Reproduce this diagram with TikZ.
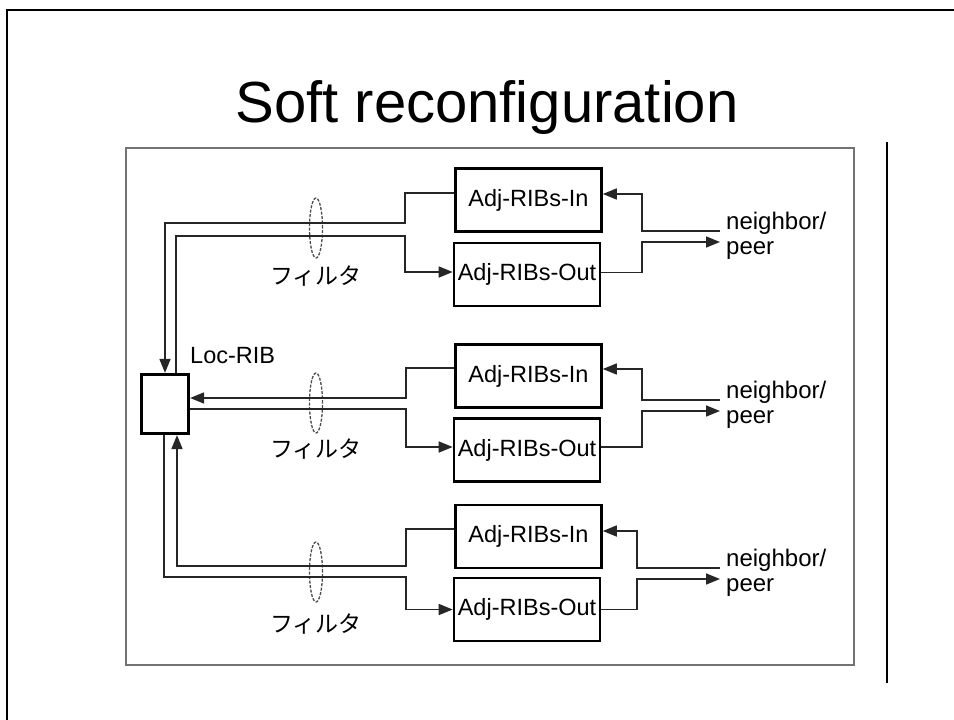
\documentclass[tikz,border=0pt]{standalone}
\usepackage{fontspec}
\setmainfont{Liberation Sans}
\newfontfamily\jpfont{Noto Sans CJK JP}
\usepackage{tikz}
\usetikzlibrary{arrows.meta, shapes.geometric}

\begin{document}
\begin{tikzpicture}[
  x=1pt, y=-1pt,
  >={Triangle[length=14pt, width=11pt]},
  ribbox/.style={
    draw, line width=2.6pt, inner sep=0pt,
    minimum width=146pt, minimum height=63pt,
    font=\fontsize{23.5}{25}\selectfont
  },
  link/.style={line width=1.6pt, draw=black!85},
  ring/.style={
    ellipse, draw=black!70, line width=1.3pt, dash pattern=on 3pt off 1.5pt,
    minimum width=13pt, minimum height=60pt, inner sep=0pt
  },
  filterlabel/.style={font=\jpfont\fontsize{23}{24}\selectfont},
  peerlabel/.style={anchor=west, align=left, inner sep=0pt, font=\fontsize{24}{25}\selectfont}
]
\useasboundingbox (0,0) rectangle (954,720);

% slide frame and title
\draw[line width=2.6pt] (7,720) -- (7,10) -- (954,10);
\draw[line width=2pt] (887,142) -- (887,683);
\node[font=\fontsize{58}{60}\selectfont, anchor=base] (title) at (487,122) {Soft reconfiguration};
\draw[draw=black!55, line width=1.8pt] (126,148) rectangle (854,665);

% Loc-RIB
\node[draw, line width=3.2pt, inner sep=0pt, minimum width=47pt, minimum height=59pt] (loc) at (165,404) {};
\node[anchor=base west, inner sep=0pt, font=\fontsize{23.5}{25}\selectfont] (loclabel) at (190,363) {Loc-RIB};

% peer 1
\node[ribbox] (in1) at (528.5,200) {Adj-RIBs-In};
\node[ribbox] (out1) at (527,274.5) {Adj-RIBs-Out};
\node[ring] (ring1) at (316,228) {};
\node[filterlabel] (filter1) at (316,276) {フィルタ};
\coordinate (nb1in) at (720,231);
\coordinate (nb1out) at (720,242);
\node[peerlabel] (peer1) at (726,236) {neighbor/\\peer};
\draw[link, ->] ([yshift=7pt]in1.west) -| (405,223) -| (loc.north);
\draw[link, ->] ([xshift=11pt]loc.north) |- (405,236) |- ([yshift=2.5pt]out1.west);
\draw[link, ->] (nb1in) -| (642,194) -- ([yshift=6pt]in1.east);
\draw[link, ->] ([yshift=2pt]out1.east) -| (642,242) -- (nb1out);

% peer 2
\node[ribbox] (in2) at (528.5,376) {Adj-RIBs-In};
\node[ribbox] (out2) at (527,450) {Adj-RIBs-Out};
\node[ring] (ring2) at (316,403) {};
\node[filterlabel] (filter2) at (316,449) {フィルタ};
\coordinate (nb2in) at (720,400);
\coordinate (nb2out) at (720,411);
\node[peerlabel] (peer2) at (726,405) {neighbor/\\peer};
\draw[link, ->] ([yshift=8pt]in2.west) -| (406,398) -- ([yshift=6pt]loc.east);
\draw[link, ->] ([yshift=-5pt]loc.east) -| (406,447) -- ([yshift=3pt]out2.west);
\draw[link, ->] (nb2in) -| (642,369) -- ([yshift=7pt]in2.east);
\draw[link, ->] ([yshift=3pt]out2.east) -| (642,411) -- (nb2out);

% peer 3
\node[ribbox] (in3) at (528.5,536.5) {Adj-RIBs-In};
\node[ribbox] (out3) at (527,609.5) {Adj-RIBs-Out};
\node[ring] (ring3) at (316,572) {};
\node[filterlabel] (filter3) at (316,624) {フィルタ};
\coordinate (nb3in) at (720,568);
\coordinate (nb3out) at (720,579);
\node[peerlabel] (peer3) at (726,573) {neighbor/\\peer};
\draw[link, ->] ([yshift=7.5pt]in3.west) -| (406,566) -| ([xshift=12pt]loc.south);
\draw[link, ->] ([xshift=-1pt]loc.south) |- (406,577) |- (out3.west);
\draw[link, ->] (nb3in) -| (637,531) -- ([yshift=5.5pt]in3.east);
\draw[link, ->] (out3.east) -| (637,579) -- (nb3out);

\end{tikzpicture}
\end{document}
